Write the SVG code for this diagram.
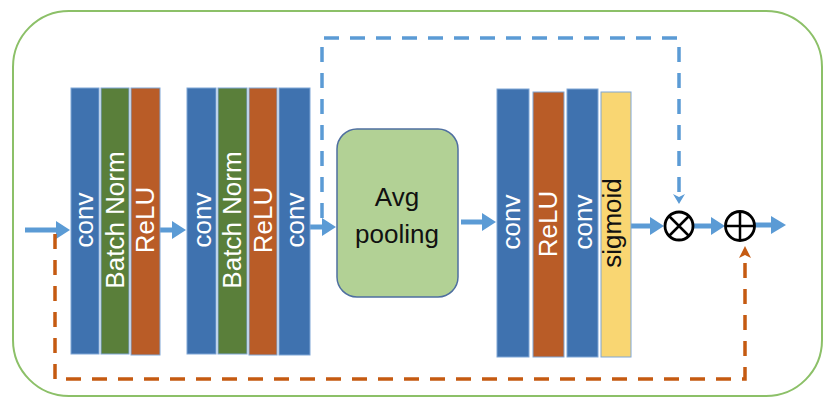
<svg xmlns="http://www.w3.org/2000/svg" width="834" height="406" viewBox="0 0 834 406">
<style>
.blk{stroke:#7FA6D6;stroke-width:1}
.b{fill:#3F72AF}.g{fill:#5A7F3A}.o{fill:#B95C27}.y{fill:#F9D672}
.t{font-family:"Liberation Sans",Arial,sans-serif;font-size:26px;fill:#FFFFFF;text-anchor:middle}
.tk{font-family:"Liberation Sans",Arial,sans-serif;font-size:26px;fill:#111111;text-anchor:middle}
.flow{stroke:#5B9BD5;stroke-width:5;fill:none}
.head{fill:#5B9BD5}
.dashb{stroke:#5B9BD5;stroke-width:3.5;fill:none;stroke-dasharray:15 11}
.dasho{stroke:#C55A11;stroke-width:3.5;fill:none;stroke-dasharray:15 11}
.op{fill:#FFFFFF;stroke:#000000;stroke-width:2.8}
</style>
<rect x="13" y="11" width="809" height="385" rx="56" ry="56" fill="#FFFFFF" stroke="#8CC068" stroke-width="2"/>

<g id="connectors">
  <path class="flow" d="M25 230H58"/><path class="head" d="M56 221L70 230L56 239Z"/>
  <path class="flow" d="M160 230H174"/><path class="head" d="M172 221L186 230L172 239Z"/>
  <path class="flow" d="M310 227H324"/><path class="head" d="M322 218L336 227L322 236Z"/>
  <path class="flow" d="M461 222H484"/><path class="head" d="M482 213L496 222L482 231Z"/>
  <path class="flow" d="M631 226H652"/><path class="head" d="M650 217L664 226L650 235Z"/>
  <path class="flow" d="M694 226H713"/><path class="head" d="M711 217L725 226L711 235Z"/>
  <path class="flow" d="M755 225H773"/><path class="head" d="M771 216L786 225L771 234Z"/>
  <path class="dashb" d="M322 218V38H679V195"/>
  <path class="head" d="M673 194L679 204L685 194L679 197Z"/>
  <path class="dasho" d="M55 234V379H745V258"/>
  <path d="M739 258L745 246L751 258L745 255Z" fill="#C55A11"/>
</g>

<g id="conv1"><rect class="blk b" x="71" y="88" width="28" height="266"/><text class="t" transform="translate(93 220) rotate(-90)">conv</text></g>
<g id="bn1"><rect class="blk g" x="101" y="88" width="28" height="266"/><text class="t" transform="translate(124 220) rotate(-90)">Batch Norm</text></g>
<g id="relu1"><rect class="blk o" x="131" y="88" width="29" height="267"/><text class="t" transform="translate(154 220) rotate(-90)">ReLU</text></g>

<g id="conv2"><rect class="blk b" x="187" y="88" width="29" height="266"/><text class="t" transform="translate(211 220) rotate(-90)">conv</text></g>
<g id="bn2"><rect class="blk g" x="218" y="88" width="29" height="266"/><text class="t" transform="translate(241 220) rotate(-90)">Batch Norm</text></g>
<g id="relu2"><rect class="blk o" x="249" y="88" width="28" height="267"/><text class="t" transform="translate(272 220) rotate(-90)">ReLU</text></g>
<g id="conv3"><rect class="blk b" x="279" y="88" width="31" height="267"/><text class="t" transform="translate(304 220) rotate(-90)">conv</text></g>

<g id="avgpool"><rect x="337" y="129" width="121" height="168" rx="20" ry="20" fill="#B2D195" stroke="#4F6FA0" stroke-width="1.5"/>
<text class="tk" x="397" y="206">Avg</text><text class="tk" x="397" y="243">pooling</text></g>

<g id="conv4"><rect class="blk b" x="497" y="89" width="32" height="268"/><text class="t" transform="translate(520 222) rotate(-90)">conv</text></g>
<g id="relu3"><rect class="blk o" x="533" y="92" width="31" height="265"/><text class="t" transform="translate(557 224) rotate(-90)">ReLU</text></g>
<g id="conv5"><rect class="blk b" x="567" y="89" width="31" height="268"/><text class="t" transform="translate(592 222) rotate(-90)">conv</text></g>
<g id="sigmoid"><rect class="blk y" x="601" y="92" width="30" height="265"/><text class="tk" transform="translate(621 223) rotate(-90)">sigmoid</text></g>

<g id="mul"><circle class="op" cx="679" cy="226" r="14"/><path d="M669 216L689 236M689 216L669 236" stroke="#000" stroke-width="2.5"/></g>
<g id="add"><circle class="op" cx="740" cy="226" r="14.5"/><path d="M725.5 226H754.5M740 211.5V240.5" stroke="#000" stroke-width="2.5"/></g>
</svg>
